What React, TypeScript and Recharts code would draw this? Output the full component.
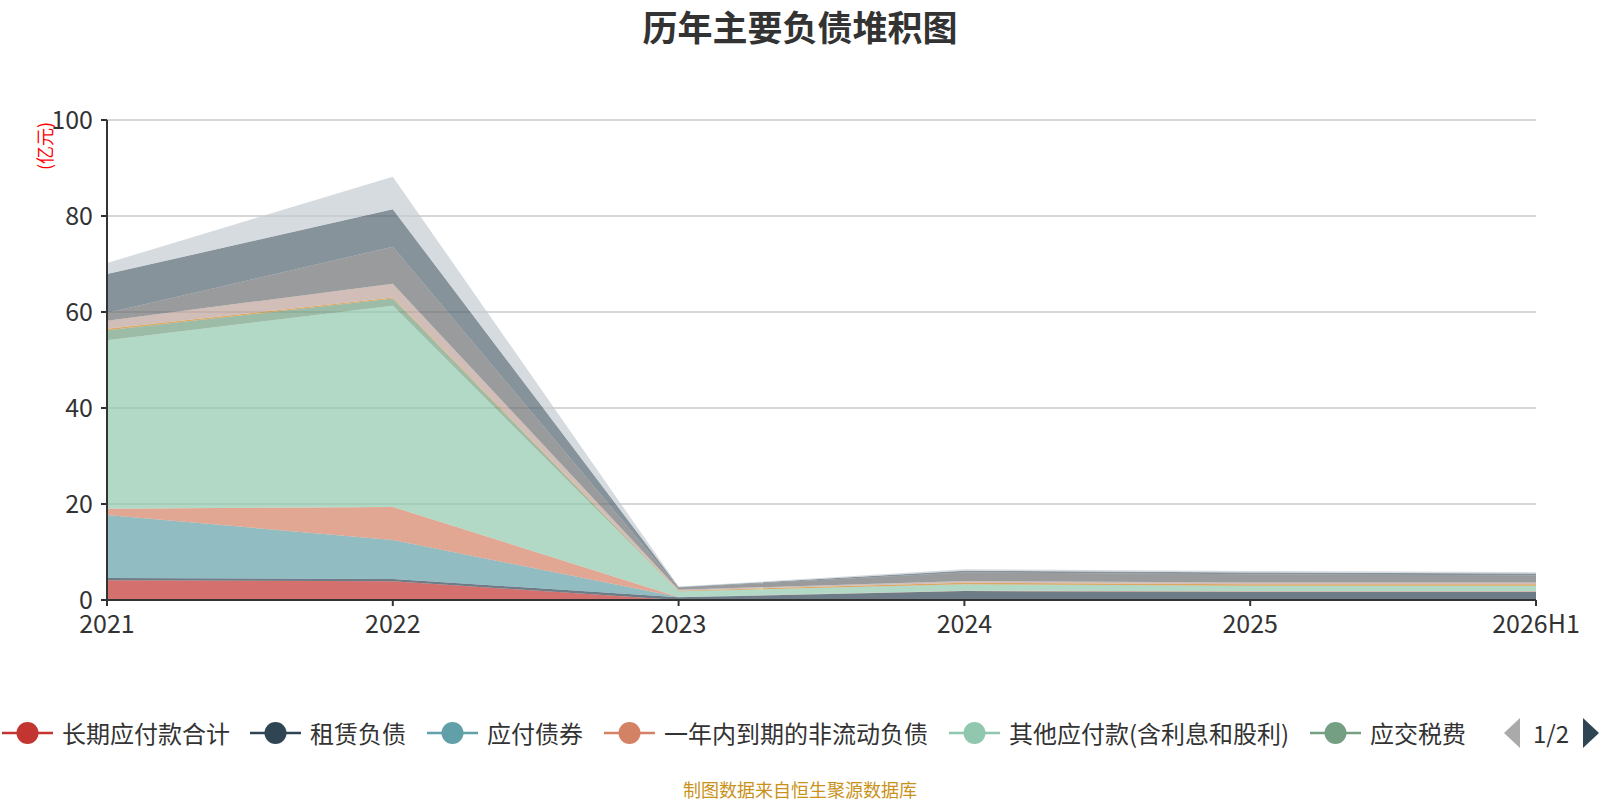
import React from 'react';
import { AreaChart, Area, XAxis, YAxis, CartesianGrid } from 'recharts';

const FONT = '"Noto Sans CJK SC", "Noto Sans", sans-serif';

const categories = ['2021', '2022', '2023', '2024', '2025', '2026H1'];
const yTicks = [0, 20, 40, 60, 80, 100];

const longTermPayables = [4.1, 3.9, 0, 0, 0, 0];
const leaseLiabilities = [0.5, 0.5, 0.55, 1.85, 1.7, 1.7];
const bondsPayable = [13.1, 8.1, 0.05, 0, 0, 0];
const currentNonCurrent = [1.3, 6.9, 0.05, 0.1, 0.1, 0.1];
const otherPayables = [35.1, 41.9, 1.1, 1.3, 1.1, 1.1];
const taxesPayable = [2.1, 1.5, 0.05, 0.05, 0.05, 0.05];
const payrollPayable = [0.3, 0.2, 0.15, 0.3, 0.35, 0.35];
const contractLiabilities = [1.7, 2.9, 0.2, 0.35, 0.35, 0.35];
const accountsPayable = [1.6, 7.7, 0.45, 1.8, 1.7, 1.5];
const shortTermLoans = [8.1, 7.8, 0.1, 0.35, 0.4, 0.35];
const longTermLoans = [2.3, 6.8, 0.1, 0.3, 0.3, 0.3];

const seriesDefs = [
  { key: 's1', name: '长期应付款合计', color: '#c23531', values: longTermPayables },
  { key: 's2', name: '租赁负债', color: '#2f4554', values: leaseLiabilities },
  { key: 's3', name: '应付债券', color: '#61a0a8', values: bondsPayable },
  { key: 's4', name: '一年内到期的非流动负债', color: '#d48265', values: currentNonCurrent },
  { key: 's5', name: '其他应付款(含利息和股利)', color: '#91c7ae', values: otherPayables },
  { key: 's6', name: '应交税费', color: '#749f83', values: taxesPayable },
  { key: 's7', name: '应付职工薪酬', color: '#ca8622', values: payrollPayable },
  { key: 's8', name: '合同负债', color: '#bda29a', values: contractLiabilities },
  { key: 's9', name: '应付票据及应付账款', color: '#6e7074', values: accountsPayable },
  { key: 's10', name: '短期借款', color: '#546570', values: shortTermLoans },
  { key: 's11', name: '长期借款', color: '#c4ccd3', values: longTermLoans },
];

const data = categories.map((c, i) => {
  const row: Record<string, any> = { name: c };
  seriesDefs.forEach((s) => {
    row[s.key] = s.values[i];
  });
  return row;
});

// legend page 1 item x positions (line start)
const legendX = [2, 250, 427, 604, 949, 1310];

export default function App() {
  return (
    <div style={{ position: 'absolute', left: 0, top: 0, width: 1600, height: 800, background: '#fff', fontFamily: FONT }}>
      <div
        style={{
          position: 'absolute',
          left: 0,
          width: 1600,
          top: 4,
          textAlign: 'center',
          fontSize: 35,
          fontWeight: 'bold',
          color: '#333',
          lineHeight: '44px',
        }}
      >
        历年主要负债堆积图
      </div>
      <div
        style={{
          position: 'absolute',
          left: 44,
          top: 146,
          transform: 'translate(-50%, -50%) rotate(-90deg)',
          color: '#ff0000',
          fontSize: 18,
          whiteSpace: 'nowrap',
          lineHeight: '18px',
        }}
      >
        (亿元)
      </div>
      <AreaChart
        width={1600}
        height={800}
        data={data}
        margin={{ top: 120, right: 64, bottom: 160, left: 37 }}
        style={{ position: 'absolute', left: 0, top: 0 }}
      >
        <CartesianGrid vertical={false} stroke="#c8c8c8" strokeWidth={1.5} />
        <XAxis
          dataKey="name"
          height={40}
          tick={{ fontSize: 25, fill: '#333', fontFamily: FONT }}
          tickLine={{ stroke: '#333', strokeWidth: 2 }}
          axisLine={{ stroke: '#333', strokeWidth: 2 }}
          tickSize={6}
          tickMargin={9}
          interval={0}
        />
        <YAxis
          width={70}
          domain={[0, 100]}
          ticks={yTicks}
          tick={{ fontSize: 25, fill: '#333', fontFamily: FONT }}
          tickLine={{ stroke: '#333', strokeWidth: 2 }}
          axisLine={{ stroke: '#333', strokeWidth: 2 }}
          tickSize={6}
          tickMargin={8}
          allowDataOverflow
        />
        {seriesDefs.map((s) => (
          <Area
            key={s.key}
            dataKey={s.key}
            name={s.name}
            stackId="a"
            type="linear"
            stroke="none"
            fill={s.color}
            fillOpacity={0.7}
            isAnimationActive={false}
            dot={false}
            activeDot={false}
          />
        ))}
      </AreaChart>
      {seriesDefs.slice(0, 6).map((s, i) => (
        <div key={s.key} style={{ position: 'absolute', left: legendX[i], top: 733 - 16, height: 32, display: 'flex', alignItems: 'center' }}>
          <svg width={51} height={32} style={{ display: 'block' }}>
            <line x1={0} y1={16} x2={51} y2={16} stroke={s.color} strokeWidth={2.5} />
            <circle cx={25.5} cy={16} r={11} fill={s.color} />
          </svg>
          <span style={{ marginLeft: 9, fontSize: 24, color: '#333', whiteSpace: 'nowrap', lineHeight: '32px' }}>{s.name}</span>
        </div>
      ))}
      <svg width={20} height={32} style={{ position: 'absolute', left: 1502, top: 717 }}>
        <polygon points="18,1 18,31 2,16" fill="#aaa" />
      </svg>
      <div style={{ position: 'absolute', left: 1533, top: 717, fontSize: 24, color: '#333', lineHeight: '32px' }}>1/2</div>
      <svg width={20} height={32} style={{ position: 'absolute', left: 1581, top: 717 }}>
        <polygon points="2,1 2,31 18,16" fill="#2f4554" />
      </svg>
      <div
        style={{
          position: 'absolute',
          left: 0,
          width: 1600,
          top: 777,
          textAlign: 'center',
          fontSize: 18,
          color: '#c9921a',
          lineHeight: '24px',
        }}
      >
        制图数据来自恒生聚源数据库
      </div>
    </div>
  );
}
